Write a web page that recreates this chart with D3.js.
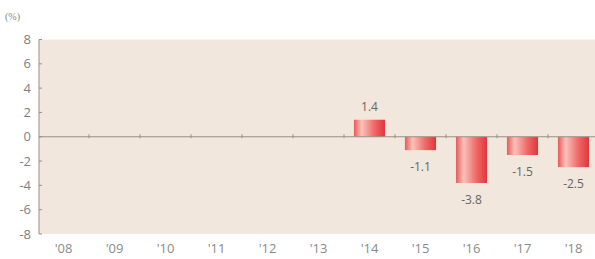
<!DOCTYPE html>
<html>
<head>
<meta charset="utf-8">
<script src="https://cdn.jsdelivr.net/npm/d3@7"></script>
<style>
  body { margin: 0; background: #fff; }
  svg { display: block; }
</style>
</head>
<body>
<div id="chart"></div>
<script>
const years = ["'08", "'09", "'10", "'11", "'12", "'13", "'14", "'15", "'16", "'17", "'18"];
const values = [null, null, null, null, null, null, 1.4, -1.1, -3.8, -1.5, -2.5];
const yTicks = [8, 6, 4, 2, 0, -2, -4, -6, -8];

const width = 595, height = 259;
const svg = d3.select("#chart").append("svg")
    .attr("width", width)
    .attr("height", height);

const x = d3.scaleBand()
    .domain(years)
    .range([38, 599])
    .paddingInner(0.39)
    .paddingOuter(0.195);

const y = d3.scaleLinear()
    .domain([-8, 8])
    .range([234, 39.5]);

// bar gradient
const defs = svg.append("defs");
const grad = defs.append("linearGradient")
    .attr("id", "barGrad")
    .attr("x1", "0%").attr("x2", "100%")
    .attr("y1", "0%").attr("y2", "0%");
grad.append("stop").attr("offset", "0%").attr("stop-color", "#e85a58");
grad.append("stop").attr("offset", "25%").attr("stop-color", "#f9c2ba");
grad.append("stop").attr("offset", "65%").attr("stop-color", "#ef6a67");
grad.append("stop").attr("offset", "100%").attr("stop-color", "#e1353a");

// plot background
svg.append("rect")
    .attr("x", 39)
    .attr("y", y(8))
    .attr("width", width - 39)
    .attr("height", y(-8) - y(8))
    .style("fill", "#f1e7dc");

// (%) unit label
svg.append("text")
    .attr("x", 5)
    .attr("y", 20)
    .text("(%)")
    .style("font-family", "Liberation Serif")
    .style("font-size", "10px")
    .attr("fill", "#888");

// y axis
const yAxis = svg.append("g").attr("transform", "translate(39,0)");
yAxis.append("line")
    .attr("y1", y(8)).attr("y2", y(-8))
    .attr("stroke", "#9a8f85").attr("stroke-width", 1);
yAxis.selectAll("line.tick")
    .data(yTicks)
    .enter().append("line")
    .attr("class", "tick")
    .attr("x1", 0).attr("x2", 3)
    .attr("y1", d => y(d)).attr("y2", d => y(d))
    .attr("stroke", "#9a8f85");
yAxis.selectAll("text")
    .data(yTicks)
    .enter().append("text")
    .attr("x", -8)
    .attr("y", d => y(d))
    .attr("dy", "0.35em")
    .attr("text-anchor", "end")
    .text(d => d)
    .style("font-family", "Open Sans")
    .style("font-size", "13px")
    .attr("fill", "#808080");

// bars
const bars = years.map((k, i) => ({ year: k, value: values[i] })).filter(d => d.value !== null);

svg.append("g").selectAll("rect")
    .data(bars)
    .enter().append("rect")
    .attr("x", d => x(d.year))
    .attr("width", x.bandwidth())
    .attr("y", d => y(Math.max(0, d.value)))
    .attr("height", d => Math.abs(y(d.value) - y(0)))
    .style("fill", "url(#barGrad)");

// zero line with ticks at band boundaries
svg.append("line")
    .attr("x1", 39).attr("x2", width)
    .attr("y1", y(0)).attr("y2", y(0))
    .attr("stroke", "#9a8f85").attr("stroke-width", 1);
const step = x.step();
svg.append("g").selectAll("line")
    .data(years.slice(1))
    .enter().append("line")
    .attr("x1", d => x(d) - (step - x.bandwidth()) / 2)
    .attr("x2", d => x(d) - (step - x.bandwidth()) / 2)
    .attr("y1", y(0) - 2.5).attr("y2", y(0) + 1.5)
    .attr("stroke", "#9a8f85");

// value labels
svg.append("g").selectAll("text")
    .data(bars)
    .enter().append("text")
    .attr("x", d => x(d.year) + x.bandwidth() / 2)
    .attr("y", d => d.value >= 0 ? y(d.value) - 9 : y(d.value) + 21)
    .attr("text-anchor", "middle")
    .text(d => d.value.toFixed(1))
    .style("font-family", "Open Sans")
    .style("font-size", "12px")
    .attr("fill", "#666");

// x labels
svg.append("g").selectAll("text")
    .data(years)
    .enter().append("text")
    .attr("x", d => x(d) + x.bandwidth() / 2)
    .attr("y", 253)
    .attr("text-anchor", "middle")
    .text(d => d)
    .style("font-family", "Open Sans")
    .style("font-size", "13px")
    .attr("fill", "#8a8a8a");
</script>
</body>
</html>
